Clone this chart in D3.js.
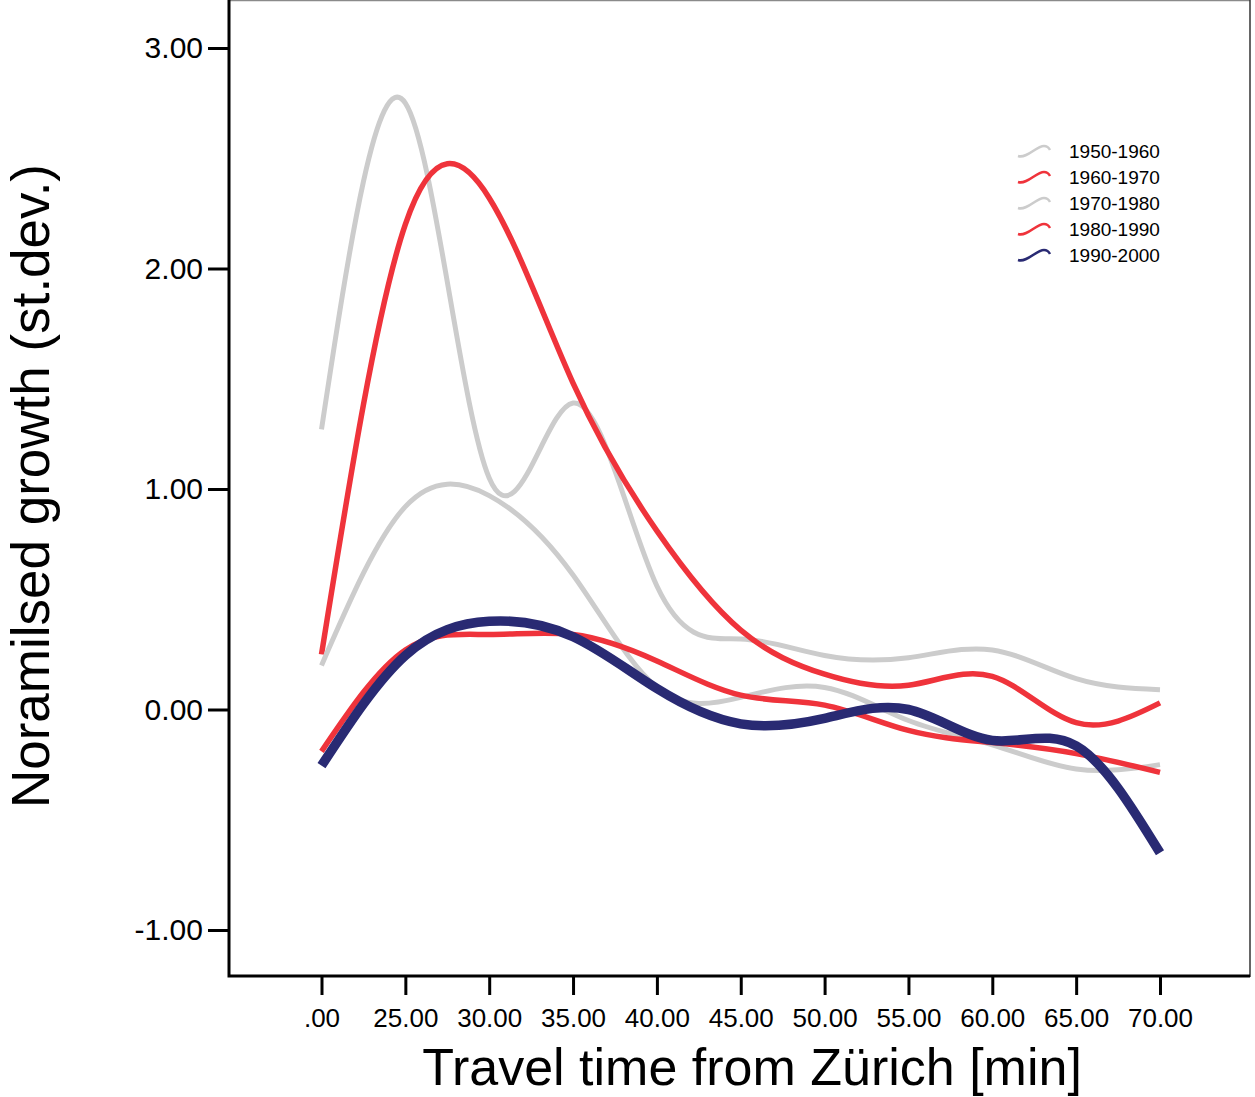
<!DOCTYPE html>
<html lang = "en">
<head>
    <meta charset="utf-8">
    <style>
        body { margin: 0; background: #fff; }
        svg { width: 1255px; height: 1097px; display: block; }
        text { font-family: "Liberation Sans", Arial, sans-serif; fill: #000; }
    </style>
</head>
<body>
    <svg></svg>
    <script src="https://d3js.org/d3.v7.min.js"></script>
    <script>
        const svg = d3.select("svg");

        /************************************************************************************
        * Data
        ************************************************************************************/
        const categories = [".00", "25.00", "30.00", "35.00", "40.00", "45.00", "50.00", "55.00", "60.00", "65.00", "70.00"];
        const yTicks = [-1, 0, 1, 2, 3];

        const growth1950 = [1.27, 2.75, 1.05, 1.39, 0.56, 0.32, 0.245, 0.235, 0.27, 0.14, 0.09];
        const growth1960 = [0.25, 2.20, 2.32, 1.48, 0.81, 0.36, 0.16, 0.11, 0.15, -0.06, 0.03];
        const growth1970 = [0.20, 0.92, 0.97, 0.61, 0.10, 0.055, 0.10, -0.05, -0.16, -0.27, -0.25];
        const growth1980 = [-0.19, 0.27, 0.34, 0.34, 0.22, 0.065, 0.02, -0.095, -0.15, -0.20, -0.285];
        const growth1990 = [-0.255, 0.245, 0.40, 0.33, 0.095, -0.065, -0.04, 0.0, -0.14, -0.165, -0.65];

        const seriesNames = ["1950-1960", "1960-1970", "1970-1980", "1980-1990", "1990-2000"];
        const seriesValues = [growth1950, growth1960, growth1970, growth1980, growth1990];

        const colors = ["#cccccc", "#ef333b", "#cccccc", "#ef333b", "#292a73"];
        const widths = [5, 5.5, 5, 5.5, 9.5];

        /************************************************************************************
        * Scales
        ************************************************************************************/
        const plotLeft = 229, plotRight = 1250, plotTop = 0, plotBottom = 977;

        const x = d3.scalePoint().domain(categories).range([321.5, 1160]);
        const y = d3.scaleLinear().domain([-1, 3]).range([930, 48]);

        /************************************************************************************
        * Frame and axes
        ************************************************************************************/
        // thin top and right border
        svg.append("line").attr("x1", plotLeft).attr("x2", plotRight).attr("y1", 0.5).attr("y2", 0.5)
            .attr("stroke", "#8a8a8a").attr("stroke-width", 1.5);
        svg.append("line").attr("x1", plotRight).attr("x2", plotRight).attr("y1", plotTop).attr("y2", plotBottom)
            .attr("stroke", "#333").attr("stroke-width", 1.5);

        // y axis (plain hyphen for negatives, like the original)
        const yFormat = d => d3.format(".2f")(d).replace("\u2212", "-");
        const yAxis = svg.append("g").attr("transform", `translate(${plotLeft},0)`)
            .call(d3.axisLeft(y).tickValues(yTicks).tickFormat(yFormat).tickSize(21).tickPadding(5));
        yAxis.select(".domain").remove();
        yAxis.selectAll(".tick line").attr("stroke", "#000").attr("stroke-width", 3);
        yAxis.selectAll(".tick text").style("font-size", "30px").attr("fill", "#000")
            .style("font-family", "'Liberation Sans', Arial, sans-serif");

        // x axis
        const xAxis = svg.append("g").attr("transform", `translate(0,${plotBottom})`)
            .call(d3.axisBottom(x).tickSize(18).tickPadding(14));
        xAxis.select(".domain").remove();
        xAxis.selectAll(".tick line").attr("stroke", "#000").attr("stroke-width", 3);
        xAxis.selectAll(".tick text").style("font-size", "26px").attr("fill", "#000")
            .style("font-family", "'Liberation Sans', Arial, sans-serif");

        // thick left and bottom lines
        svg.append("path")
            .attr("d", `M${plotLeft},${plotTop} V${plotBottom - 1} H${plotRight}`)
            .attr("fill", "none").attr("stroke", "#000").attr("stroke-width", 3);

        /************************************************************************************
        * Lines
        ************************************************************************************/
        const line = d3.line()
            .x((d, i) => x(categories[i]))
            .y(d => y(d))
            .curve(d3.curveNatural);

        svg.append("g").selectAll("path")
            .data(seriesValues)
            .enter()
            .append("path")
            .attr("d", d => line(d))
            .attr("fill", "none")
            .attr("stroke", (d, i) => colors[i])
            .attr("stroke-width", (d, i) => widths[i]);

        /************************************************************************************
        * Legend
        ************************************************************************************/
        const legend = svg.append("g").attr("transform", "translate(1018,151)");
        const entries = legend.selectAll("g").data(seriesNames).enter()
            .append("g").attr("transform", (d, i) => `translate(0,${i * 26})`);
        entries.append("path")
            .attr("d", "M0,5 C9,8 18,-5 26,-5 C29,-5 31,-3 32,-1")
            .attr("fill", "none")
            .attr("stroke", (d, i) => colors[i])
            .attr("stroke-width", 2.5);
        entries.append("text")
            .attr("x", 51).attr("dy", "0.35em")
            .style("font-size", "19px")
            .text(d => d);

        /************************************************************************************
        * Titles
        ************************************************************************************/
        svg.append("text")
            .attr("transform", "translate(49,486) rotate(-90)")
            .attr("text-anchor", "middle")
            .style("font-size", "53px")
            .text("Noramilsed growth (st.dev.)");

        svg.append("text")
            .attr("x", 752).attr("y", 1085)
            .attr("text-anchor", "middle")
            .style("font-size", "52px")
            .text("Travel time from Zürich [min]");
    </script>
</body>
</html>
